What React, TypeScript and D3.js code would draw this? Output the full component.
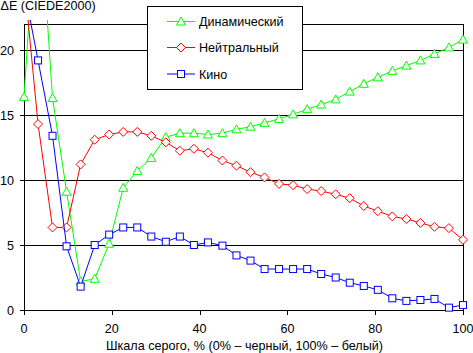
import React from "react";
import * as d3 from "d3";

const grayLevels = [0, 3.2, 6.5, 9.7, 12.9, 16.1, 19.4, 22.6, 25.8, 29.0, 32.3, 35.5, 38.7, 41.9, 45.2, 48.4, 51.6, 54.8, 58.1, 61.3, 64.5, 67.7, 71.0, 74.2, 77.4, 80.6, 83.9, 87.1, 90.3, 93.5, 96.8, 100];

const dynamicValues = [16.4, 33, 16.3, 9.1, 2.2, 2.4, 5.1, 9.4, 10.7, 11.7, 13.3, 13.6, 13.6, 13.5, 13.6, 13.9, 14.1, 14.4, 14.7, 15.05, 15.45, 15.8, 16.2, 16.8, 17.4, 17.9, 18.4, 18.8, 19.2, 19.7, 20.2, 20.8];
const neutralValues = [25.5, 14.3, 6.35, 6.35, 11.2, 13.1, 13.5, 13.7, 13.7, 13.4, 12.9, 12.25, 12.4, 12.1, 11.5, 11.1, 10.6, 10.2, 9.7, 9.6, 9.3, 9.15, 8.9, 8.6, 8.0, 7.6, 7.2, 7.0, 6.7, 6.4, 6.3, 5.4];
const cinemaValues = [24.8, 19.2, 13.4, 4.9, 1.8, 5.0, 5.8, 6.35, 6.35, 5.65, 5.25, 5.65, 5.0, 5.2, 4.95, 4.2, 3.8, 3.15, 3.15, 3.15, 3.15, 2.77, 2.5, 2.1, 1.85, 1.55, 0.9, 0.7, 0.77, 0.85, 0.18, 0.38];

const seriesNames = ["Динамический", "Нейтральный", "Кино"];
const xTicks = [0, 20, 40, 60, 80, 100];
const yTicks = [0, 5, 10, 15, 20];
const yTitle = "ΔE (CIEDE2000)";
const xTitle = "Шкала серого, % (0% – черный, 100% – белый)";

const FONT = "'Liberation Sans', Arial, sans-serif";
const FS = 12.6;

const series = [
  { name: seriesNames[0], values: dynamicValues, color: "#00ff00", marker: "tri" },
  { name: seriesNames[1], values: neutralValues, color: "#ff0000", marker: "dia" },
  { name: seriesNames[2], values: cinemaValues, color: "#0000ff", marker: "sq" },
];

function Marker({ type, color, x, y }: { type: string; color: string; x: number; y: number }) {
  if (type === "tri") {
    return <path d={`M${x},${y - 4.5}L${x + 4.5},${y + 3.5}L${x - 4.5},${y + 3.5}Z`} fill="#fff" stroke={color} strokeWidth={1} />;
  }
  if (type === "dia") {
    return <path d={`M${x},${y - 4.5}L${x + 4.5},${y}L${x},${y + 4.5}L${x - 4.5},${y}Z`} fill="#fff" stroke={color} strokeWidth={1} />;
  }
  return <rect x={x - 3.5} y={y - 3.5} width={7} height={7} fill="#fff" stroke={color} strokeWidth={1} />;
}

export default function App() {
  const W = 473, H = 353;
  const x = d3.scaleLinear().domain([0, 100]).range([24, 463]);
  const y = d3.scaleLinear().domain([0, 22]).range([310, 24]);
  const line = d3.line<number>().x((_, i) => x(grayLevels[i])).y((d) => y(d));

  return (
    <svg width={W} height={H} style={{ position: "absolute", left: 0, top: 0, background: "#fff" }} fontFamily={FONT}>
      <defs>
        <clipPath id="plotclip">
          <rect x={0} y={20} width={W} height={300} />
        </clipPath>
      </defs>
      <rect x={0} y={0} width={W} height={H} fill="#fff" />
      {yTicks.filter((t) => t > 0).map((t) => (
        <line key={t} x1={x(0)} x2={x(100)} y1={Math.round(y(t)) + 0.5} y2={Math.round(y(t)) + 0.5} stroke="#000" strokeWidth={1} />
      ))}
      <line x1={x(0)} x2={x(100)} y1={24.5} y2={24.5} stroke="#000" />
      <line x1={463.5} x2={463.5} y1={24} y2={310} stroke="#000" />
      <line x1={24.5} x2={24.5} y1={24} y2={310.5} stroke="#000" />
      <line x1={20} x2={463.5} y1={310.5} y2={310.5} stroke="#000" />
      {yTicks.map((t) => (
        <g key={t}>
          <line x1={20} x2={24.5} y1={Math.round(y(t)) + 0.5} y2={Math.round(y(t)) + 0.5} stroke="#000" />
          <text x={14} y={y(t) + 4.5} textAnchor="end" fontSize={FS}>{t}</text>
        </g>
      ))}
      {xTicks.map((t) => (
        <g key={t}>
          <line x1={Math.round(x(t)) + 0.5} x2={Math.round(x(t)) + 0.5} y1={310} y2={315} stroke="#000" />
          <text x={x(t)} y={333} textAnchor="middle" fontSize={FS}>{t}</text>
        </g>
      ))}
      <text x={0.5} y={10} fontSize={FS}>{yTitle}</text>
      <text x={244.5} y={350} textAnchor="middle" fontSize={FS}>{xTitle}</text>
      <g clipPath="url(#plotclip)">
        {series.map((s) => (
          <g key={s.name}>
            <path d={line(s.values) || ""} fill="none" stroke={s.color} strokeWidth={1} />
            {s.values.map((v, i) => (
              <Marker key={i} type={s.marker} color={s.color} x={x(grayLevels[i])} y={y(v)} />
            ))}
          </g>
        ))}
      </g>
      <rect x={147.5} y={6.5} width={155} height={83} fill="#fff" stroke="#000" />
      {series.map((s, i) => {
        const ly = [21.5, 47.5, 74][i];
        return (
          <g key={s.name}>
            <line x1={167} x2={195} y1={ly} y2={ly} stroke={s.color} />
            <Marker type={s.marker} color={s.color} x={181} y={ly} />
            <text x={199} y={ly + 4.5} fontSize={FS}>{s.name}</text>
          </g>
        );
      })}
    </svg>
  );
}
